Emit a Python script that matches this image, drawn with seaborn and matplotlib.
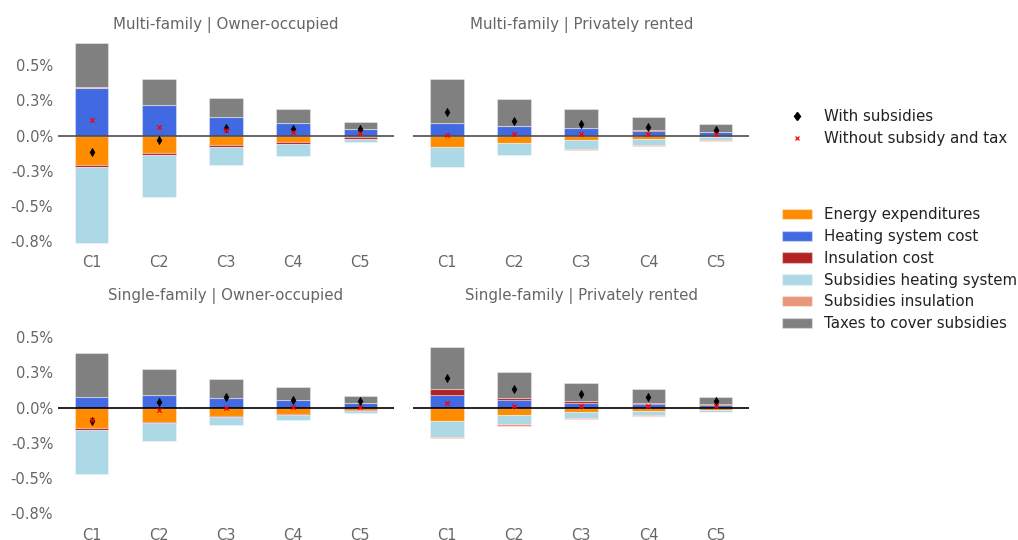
import numpy as np
import pandas as pd
import matplotlib
matplotlib.use("Agg")
import matplotlib.pyplot as plt
import seaborn as sns
from matplotlib.patches import Patch
from matplotlib.lines import Line2D

# ---------------- data (values in % of income) ----------------
categories = ["C1", "C2", "C3", "C4", "C5"]
panels = ["Multi-family | Owner-occupied", "Multi-family | Privately rented",
          "Single-family | Owner-occupied", "Single-family | Privately rented"]
series_names = ["Energy expenditures", "Heating system cost", "Insulation cost",
                "Subsidies heating system", "Subsidies insulation", "Taxes to cover subsidies"]
series_colors = ["darkorange", "royalblue", "firebrick", "lightblue", "darksalmon", "grey"]

energy_expenditures = [[-0.210, -0.122, -0.063, -0.046, -0.011],
                       [-0.080, -0.051, -0.032, -0.023, -0.008],
                       [-0.148, -0.100, -0.060, -0.046, -0.018],
                       [-0.099, -0.052, -0.035, -0.028, -0.014]]
heating_system_cost = [[0.342, 0.217, 0.131, 0.091, 0.046],
                       [0.089, 0.067, 0.051, 0.036, 0.024],
                       [0.077, 0.091, 0.070, 0.053, 0.030],
                       [0.092, 0.050, 0.030, 0.028, 0.019]]
insulation_cost = [[-0.012, -0.019, -0.021, -0.014, -0.012],
                   [0.000, 0.000, 0.000, 0.003, 0.003],
                   [-0.012, -0.008, -0.007, -0.005, -0.005],
                   [0.036, 0.021, 0.018, 0.007, 0.007]]
subsidies_heating_system = [[-0.539, -0.294, -0.126, -0.086, -0.023],
                            [-0.142, -0.090, -0.064, -0.040, -0.024],
                            [-0.312, -0.127, -0.057, -0.035, -0.014],
                            [-0.107, -0.066, -0.038, -0.024, -0.016]]
subsidies_insulation = [[0.004, 0.004, 0.003, 0.002, 0.001],
                        [0.000, 0.000, -0.003, -0.007, -0.007],
                        [0.000, 0.000, 0.000, 0.000, 0.000],
                        [-0.012, -0.010, -0.007, -0.007, -0.005]]
taxes_to_cover_subsidies = [[0.313, 0.185, 0.137, 0.098, 0.051],
                            [0.314, 0.190, 0.135, 0.097, 0.055],
                            [0.307, 0.184, 0.130, 0.090, 0.054],
                            [0.302, 0.184, 0.124, 0.097, 0.047]]
with_subsidies = [[-0.115, -0.032, 0.055, 0.044, 0.048],
                  [0.169, 0.105, 0.080, 0.063, 0.039],
                  [-0.096, 0.039, 0.072, 0.053, 0.044],
                  [0.210, 0.130, 0.097, 0.073, 0.045]]
without_subsidy_and_tax = [[0.110, 0.063, 0.039, 0.027, 0.016],
                           [0.003, 0.012, 0.012, 0.012, 0.012],
                           [-0.089, -0.020, -0.004, 0.001, 0.004],
                           [0.030, 0.014, 0.009, 0.012, 0.009]]

yticks = [-0.75, -0.5, -0.25, 0.0, 0.25, 0.5]
ytick_labels = ["-0.8%", "-0.5%", "-0.3%", "0.0%", "0.3%", "0.5%"]
marker_names = ["With subsidies", "Without subsidy and tax"]

series_values = [energy_expenditures, heating_system_cost, insulation_cost,
                 subsidies_heating_system, subsidies_insulation, taxes_to_cover_subsidies]

# ---------------- figure ----------------
sns.set_style("white")
plt.rcParams["font.family"] = ["DejaVu Sans"]
fig = plt.figure(figsize=(10.18, 5.4), dpi=100)

rects = [[0.057, 0.532, 0.330, 0.407], [0.406, 0.532, 0.330, 0.407],
         [0.057, 0.028, 0.330, 0.408], [0.406, 0.028, 0.330, 0.408]]
tick_color = "#666666"
fs = 10.5
title_fs = 10.8
legend_fs = 10.8

for p, panel in enumerate(panels):
    ax = fig.add_axes(rects[p])
    x = np.arange(len(categories))
    pos_bottom = np.zeros(len(categories))
    neg_bottom = np.zeros(len(categories))
    for name, color, vals in zip(series_names, series_colors, series_values):
        v = np.array(vals[p])
        bottom = np.where(v >= 0, pos_bottom, neg_bottom)
        ax.bar(x, v, width=0.5, bottom=bottom, color=color,
               edgecolor=(1, 1, 1, 0.35), linewidth=0.8)
        pos_bottom = pos_bottom + np.where(v >= 0, v, 0)
        neg_bottom = neg_bottom + np.where(v < 0, v, 0)
    ax.axhline(0, color="0.3" if p < 2 else "black", linewidth=1.2, zorder=3)
    df = pd.DataFrame({"x": x, "with": with_subsidies[p], "without": without_subsidy_and_tax[p]})
    sns.scatterplot(data=df, x="x", y="with", marker="d", color="black", s=18,
                    edgecolor="black", linewidth=0.4, ax=ax, zorder=5, legend=False)
    sns.scatterplot(data=df, x="x", y="without", marker="x", color="red", s=10,
                    linewidth=0.9, ax=ax, zorder=5, legend=False)
    ax.set_xlim(-0.5, 4.5)
    ax.set_ylim(-0.832, 0.730)
    ax.set_xticks(x)
    ax.set_xticklabels(categories)
    ax.set_yticks(yticks)
    if p % 2 == 0:
        ax.set_yticklabels(ytick_labels)
    else:
        ax.set_yticklabels([])
    ax.tick_params(axis="both", length=0, labelsize=fs, labelcolor=tick_color)
    ax.tick_params(axis="x", pad=2)
    ax.set_xlabel("")
    ax.set_ylabel("")
    ax.set_title(panel, fontsize=title_fs, color=tick_color, pad=3)
    sns.despine(ax=ax, left=True, bottom=True)
    ax.grid(False)

marker_handles = [
    Line2D([], [], marker="d", color="black", linestyle="none", markersize=4.5),
    Line2D([], [], marker="x", color="red", linestyle="none", markersize=3.5, markeredgewidth=0.9),
]
leg1 = fig.legend(marker_handles, marker_names, loc="upper left",
                  bbox_to_anchor=(0.755, 0.823), frameon=False, fontsize=legend_fs,
                  handlelength=2.0, labelspacing=0.45)
bar_handles = [Patch(facecolor=c, edgecolor=(1, 1, 1, 0.35)) for c in series_colors]
leg2 = fig.legend(bar_handles, series_names, loc="upper left",
                  bbox_to_anchor=(0.755, 0.641), frameon=False, fontsize=legend_fs,
                  handlelength=2.0, labelspacing=0.45)
for leg in (leg1, leg2):
    for t in leg.get_texts():
        t.set_color("#222222")

fig.savefig("out.png", dpi=100)
